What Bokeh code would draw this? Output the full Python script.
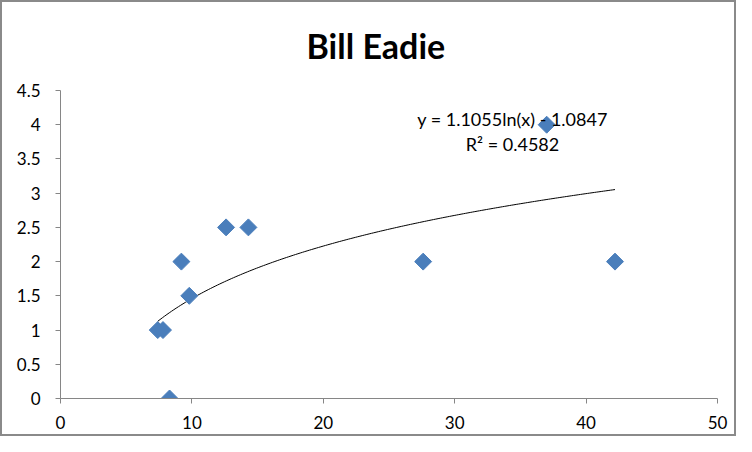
import numpy as np
from bokeh.plotting import figure
from bokeh.models import FixedTicker, Label, Range1d
from bokeh.embed import file_html
from bokeh.resources import INLINE

# Data
x_vals = [7.4, 7.8, 8.3, 9.2, 9.8, 12.6, 14.3, 27.6, 37.0, 42.2]
y_vals = [1.0, 1.0, 0.0, 2.0, 1.5, 2.5, 2.5, 2.0, 4.0, 2.0]
trend_a = 1.1055
trend_b = -1.0847
eq_text = "y = 1.1055ln(x) - 1.0847"
r2_text = "R² = 0.4582"
x_ticks = [0, 10, 20, 30, 40, 50]
y_ticks = [0, 0.5, 1, 1.5, 2, 2.5, 3, 3.5, 4, 4.5]
title_text = "Bill Eadie"

FONT = "Lato"
AXIS_COLOR = "#868686"

p = figure(width=736, height=436, output_backend="svg", toolbar_location=None,
           x_range=Range1d(0, 50), y_range=Range1d(0, 4.5),
           min_border_left=58, min_border_right=21, min_border_top=86, min_border_bottom=40)

p.title.text = title_text
p.title.align = "left"
p.title.offset = 246
p.title.vertical_align = "top"
p.title.text_font = FONT
p.title.text_font_size = "34px"
p.title.text_font_style = "bold"
p.title.text_color = "black"
p.title.text_line_height = 1.0
p.title.standoff = 45

p.outline_line_color = None
p.xgrid.visible = False
p.ygrid.visible = False
p.background_fill_color = "white"
p.border_fill_color = "white"
p.styles = {"border": "2px solid #8a8a8a"}

for ax in (p.xaxis, p.yaxis):
    ax.axis_line_color = AXIS_COLOR
    ax.major_tick_line_color = AXIS_COLOR
    ax.major_tick_out = 5
    ax.major_tick_in = 0
    ax.minor_tick_line_color = None
    ax.major_label_text_font = FONT
    ax.major_label_text_font_size = "17px"
    ax.major_label_text_color = "black"

p.xaxis.ticker = FixedTicker(ticks=x_ticks)
p.yaxis.ticker = FixedTicker(ticks=y_ticks)
p.yaxis.major_label_overrides = {t: ("%g" % t) for t in y_ticks}
p.xaxis.major_label_overrides = {t: ("%g" % t) for t in x_ticks}
p.xaxis.major_label_standoff = 12
p.yaxis.major_label_standoff = 15

# trendline from the equation
xs = np.linspace(min(x_vals), max(x_vals), 200)
ys = trend_a * np.log(xs) + trend_b
p.line(xs, ys, line_color="black", line_width=1)

p.scatter(x_vals, y_vals, marker="square", angle=np.pi / 4, size=12,
          fill_color="#4A7EBB", line_color="#4A7EBB")

p.add_layout(Label(x=34.4, y=4.08, text=eq_text, text_align="center", text_baseline="middle",
                   text_font=FONT, text_font_size="18px", text_color="black"))
p.add_layout(Label(x=34.4, y=3.72, text=r2_text, text_align="center", text_baseline="middle",
                   text_font=FONT, text_font_size="18px", text_color="black"))

open("out.html", "w").write(file_html(p, INLINE))
